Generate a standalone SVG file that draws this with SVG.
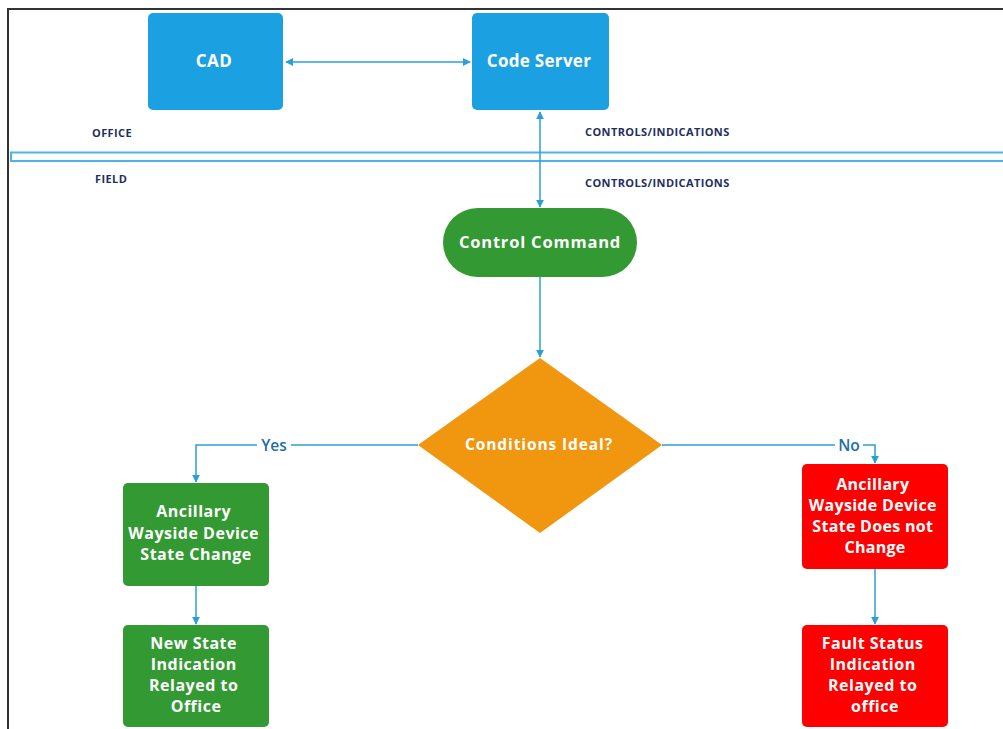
<svg xmlns="http://www.w3.org/2000/svg" width="1003" height="729" viewBox="0 0 1003 729">
  <style>
    .node text { font-family: "Open Sans", "Liberation Sans", sans-serif; font-weight: bold; fill: #ffffff; text-anchor: middle; }
    .blue { fill: #1ba1e2; }
    .green { fill: #339933; }
    .red { fill: #ff0000; }
    .orange { fill: #f0960f; }
    .zone { font-family: "Open Sans", "Liberation Sans", sans-serif; font-weight: bold; font-size: 11px; fill: #1f2f5f; letter-spacing: 0.4px; }
    .branch { font-family: "Open Sans", "Liberation Sans", sans-serif; font-size: 15.5px; fill: #1f6fa8; font-weight: 600; text-anchor: middle; }
    .wire { fill: none; stroke: #2a9fd8; stroke-width: 1.5; }
  </style>
  <defs>
    <marker id="head" viewBox="0 0 10 10" refX="9" refY="5" markerWidth="8" markerHeight="8" orient="auto-start-reverse" markerUnits="userSpaceOnUse">
      <path d="M0,0 L10,5 L0,10 z" fill="#2a9fd8"/>
    </marker>
  </defs>

  <rect width="1003" height="729" fill="#ffffff"/>

  <!-- page frame -->
  <path d="M8,729 V9 H1003" fill="none" stroke="#333333" stroke-width="2"/>

  <!-- office / field boundary band -->
  <rect x="11" y="152.5" width="1000" height="8.5" fill="#ffffff" stroke="#4fb3ea" stroke-width="2"/>

  <text class="zone" x="92" y="137">OFFICE</text>
  <text class="zone" x="95" y="183">FIELD</text>
  <text class="zone" x="585" y="136">CONTROLS/INDICATIONS</text>
  <text class="zone" x="585" y="187">CONTROLS/INDICATIONS</text>

  <!-- connectors -->
  <g id="connectors">
    <line class="wire" x1="286" y1="62" x2="470" y2="62" marker-start="url(#head)" marker-end="url(#head)"/>
    <line class="wire" x1="540" y1="112" x2="540" y2="207" marker-start="url(#head)" marker-end="url(#head)"/>
    <line class="wire" x1="540" y1="277" x2="540" y2="357" marker-end="url(#head)"/>
    <polyline class="wire" points="418,445 196,445 196,482" marker-end="url(#head)"/>
    <polyline class="wire" points="662,445 875,445 875,463" marker-end="url(#head)"/>
    <line class="wire" x1="196" y1="586" x2="196" y2="624" marker-end="url(#head)"/>
    <line class="wire" x1="875" y1="569" x2="875" y2="624" marker-end="url(#head)"/>
    <rect x="257" y="436" width="34" height="18" fill="#ffffff"/>
    <text class="branch" x="274" y="451">Yes</text>
    <rect x="835" y="436" width="28" height="18" fill="#ffffff"/>
    <text class="branch" x="849" y="451">No</text>
  </g>

  <g id="cad" class="node">
    <rect class="blue" x="148" y="13" width="135" height="97" rx="5"/>
    <text x="214" y="67" font-size="17" letter-spacing="0.5">CAD</text>
  </g>

  <g id="code-server" class="node">
    <rect class="blue" x="472" y="13" width="137" height="97" rx="5"/>
    <text x="539" y="67" font-size="17" letter-spacing="0.3">Code Server</text>
  </g>

  <g id="control-command" class="node">
    <rect class="green" x="443" y="208" width="194" height="69" rx="34.5"/>
    <text x="540" y="248" font-size="16.5" letter-spacing="0.8">Control Command</text>
  </g>

  <g id="conditions" class="node">
    <polygon class="orange" points="540,358 662,445 540,533 418,445"/>
    <text x="539" y="450" font-size="15.5" letter-spacing="0.9">Conditions Ideal?</text>
  </g>

  <g id="state-change" class="node">
    <rect class="green" x="123" y="483" width="146" height="103" rx="5"/>
    <text font-size="16" letter-spacing="0.5">
      <tspan x="196" y="517">Ancillary</tspan>
      <tspan x="196" y="539">Wayside Device</tspan>
      <tspan x="196" y="560">State Change</tspan>
    </text>
  </g>

  <g id="new-state" class="node">
    <rect class="green" x="123" y="625" width="146" height="102" rx="5"/>
    <text font-size="16" letter-spacing="0.5">
      <tspan x="196" y="649">New State</tspan>
      <tspan x="196" y="670">Indication</tspan>
      <tspan x="196" y="691">Relayed to</tspan>
      <tspan x="196" y="712">Office</tspan>
    </text>
  </g>

  <g id="no-change" class="node">
    <rect class="red" x="802" y="464" width="146" height="105" rx="5"/>
    <text font-size="16" letter-spacing="0.3">
      <tspan x="875" y="490">Ancillary</tspan>
      <tspan x="875" y="511">Wayside Device</tspan>
      <tspan x="875" y="532">State Does not</tspan>
      <tspan x="875" y="553">Change</tspan>
    </text>
  </g>

  <g id="fault-status" class="node">
    <rect class="red" x="802" y="625" width="146" height="102" rx="5"/>
    <text font-size="16" letter-spacing="0.5">
      <tspan x="875" y="649">Fault Status</tspan>
      <tspan x="875" y="670">Indication</tspan>
      <tspan x="875" y="691">Relayed to</tspan>
      <tspan x="875" y="712">office</tspan>
    </text>
  </g>
</svg>
